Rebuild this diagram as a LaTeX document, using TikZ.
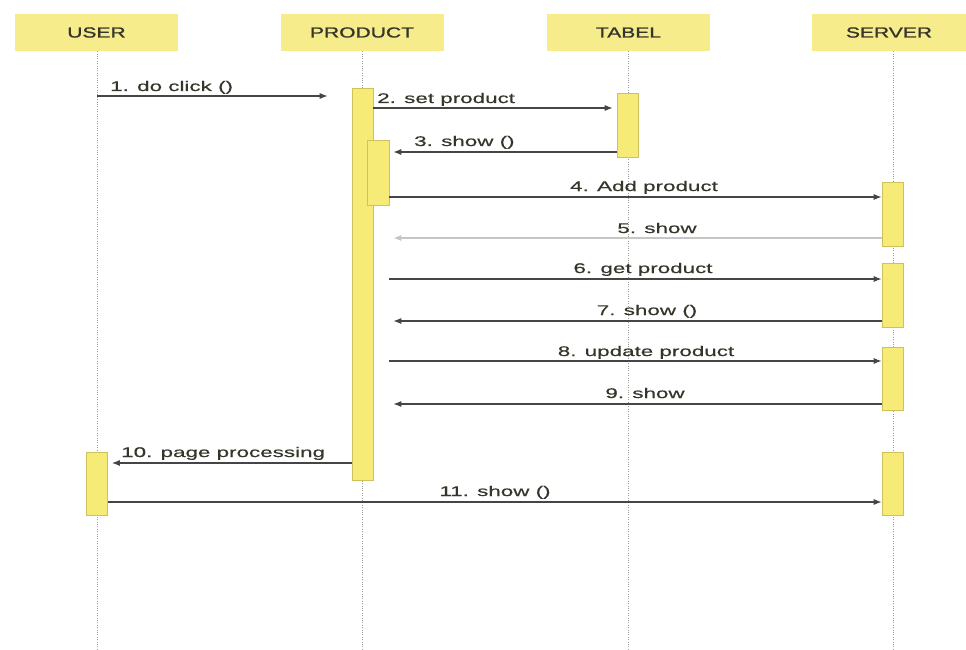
\documentclass[tikz,border=0pt]{standalone}
\usepackage{fontspec}
\setmainfont{Liberation Sans}
\newfontfamily\hdrfont[FakeStretch=1.45,FakeBold=1.2]{Liberation Sans}
\newfontfamily\msgfont[FakeStretch=1.6,FakeBold=0.4]{Liberation Sans}
\usetikzlibrary{arrows.meta}
\definecolor{hdrfill}{HTML}{F6EC8C}
\definecolor{actfill}{HTML}{F7EB78}
\definecolor{actline}{HTML}{CFC25E}
\definecolor{inkgray}{HTML}{35352A}
\definecolor{wire}{HTML}{454545}
\tikzset{
  hdr/.style={fill=hdrfill, draw=none, minimum width=163pt, minimum height=37pt,
    inner sep=0pt, text=inkgray, font=\hdrfont\fontsize{14.5}{16}\selectfont},
  act/.style={fill=actfill, draw=actline, line width=0.6pt, minimum width=21pt,
    inner sep=0pt},
  lifeline/.style={draw=gray!80, line width=0.9pt, dash pattern=on 1pt off 1.4pt},
  msg/.style={draw=wire, line width=1.1pt, -{Latex[length=8pt,width=6pt]}},
  faintmsg/.style={msg, draw=gray!45},
  lbl/.style={inner sep=0pt, text=inkgray, font=\msgfont\fontsize{14}{16}\selectfont}
}
\begin{document}
\begin{tikzpicture}[x=1pt,y=-1pt]
\useasboundingbox (0,0) rectangle (966,650);
\fill[white] (0,0) rectangle (966,650);

% participants
\node[hdr] (user)    at (96.5,32.5)  {USER};
\node[hdr] (product) at (362,32.5)   {PRODUCT};
\node[hdr] (tabel)   at (628.5,32.5) {TABEL};
\node[hdr, minimum width=154pt] (server) at (889,32.5) {SERVER};

% lifelines
\coordinate (userEnd)    at (97,650);
\coordinate (productEnd) at (362,650);
\coordinate (tabelEnd)   at (628,650);
\coordinate (serverEnd)  at (893,650);
\draw[lifeline] (user.south -| userEnd) -- (userEnd);
\draw[lifeline] (product.south -| productEnd) -- (productEnd);
\draw[lifeline] (tabel.south -| tabelEnd) -- (tabelEnd);
\draw[lifeline] (server.south -| serverEnd) -- (serverEnd);

% activation bars
\node[act, minimum height=392pt] (pact)  at (362.5,284) {};
\node[act, minimum height=65pt, minimum width=22pt] (pnest) at (378,172.5) {};
\node[act, minimum height=64pt] (tact)  at (627.5,125) {};
\node[act, minimum height=64pt] (sact1) at (892.5,214) {};
\node[act, minimum height=64pt] (sact2) at (892.5,295) {};
\node[act, minimum height=63pt] (sact3) at (892.5,378.5) {};
\node[act, minimum height=63pt] (sact4) at (892.5,483.5) {};
\node[act, minimum height=63pt] (uact)  at (97,483.5) {};

% messages
\draw[msg] (userEnd |- 0,96) -- ([xshift=-24pt]pact.west |- 0,96);
\node[lbl, anchor=base west] (l1) at (110,91) {1. do click ()};

\draw[msg] (pact.east |- 0,108) -- ([xshift=-4pt]tact.west |- 0,108);
\node[lbl, anchor=base west] (l2) at (377,103) {2. set product};

\draw[msg] (tact.west |- 0,152) -- ([xshift=4pt]pnest.east |- 0,152);
\node[lbl, anchor=base west] (l3) at (414,146) {3. show ()};

\draw[msg] (pnest.east |- 0,197) -- (sact1.west |- 0,197);
\node[lbl, anchor=base] (l4) at (644,191) {4. Add product};

\draw[faintmsg] (sact1.west |- 0,238) -- ([xshift=4pt]pnest.east |- 0,238);
\node[lbl, anchor=base] (l5) at (657,233) {5. show};

\draw[msg] (pnest.east |- 0,279) -- (sact2.west |- 0,279);
\node[lbl, anchor=base] (l6) at (643,273) {6. get product};

\draw[msg] (sact2.west |- 0,321) -- ([xshift=4pt]pnest.east |- 0,321);
\node[lbl, anchor=base] (l7) at (647,315) {7. show ()};

\draw[msg] (pnest.east |- 0,361) -- (sact3.west |- 0,361);
\node[lbl, anchor=base] (l8) at (646,356) {8. update product};

\draw[msg] (sact3.west |- 0,404) -- ([xshift=4pt]pnest.east |- 0,404);
\node[lbl, anchor=base] (l9) at (645,398) {9. show};

\draw[msg] (pact.west |- 0,463) -- ([xshift=4pt]uact.east |- 0,463);
\node[lbl, anchor=base west] (l10) at (121,457) {10. page processing};

\draw[msg] (uact.east |- 0,502) -- (sact4.west |- 0,502);
\node[lbl, anchor=base] (l11) at (495,496) {11. show ()};
\end{tikzpicture}
\end{document}
